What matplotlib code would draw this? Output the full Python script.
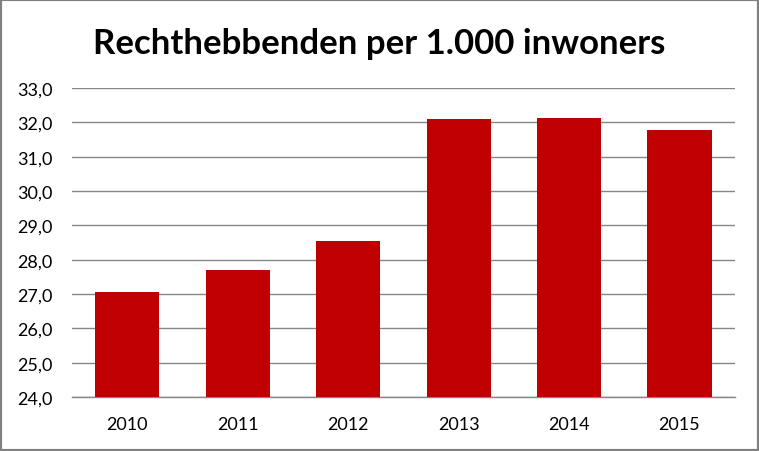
import matplotlib
matplotlib.use("Agg")
import matplotlib.pyplot as plt
from matplotlib.patches import Rectangle
from matplotlib.ticker import FuncFormatter

years = ["2010", "2011", "2012", "2013", "2014", "2015"]
values = [27.05, 27.70, 28.55, 32.10, 32.13, 31.78]
title = "Rechthebbenden per 1.000 inwoners"

plt.rcParams['font.family'] = ['Lato', 'DejaVu Sans']

fig = plt.figure(figsize=(7.59, 4.52), dpi=100)
ax = fig.add_axes([0.095, 0.1195, 0.873, 0.6835])

ax.bar(range(len(years)), values, width=0.58, bottom=0, color="#C00000", zorder=3)
ax.set_ylim(24, 33)
ax.set_xlim(-0.5, len(years) - 0.5)
ax.set_yticks(range(24, 34))
ax.yaxis.set_major_formatter(FuncFormatter(lambda v, p: f"{v:.1f}".replace(".", ",")))
ax.set_xticks(range(len(years)))
ax.set_xticklabels(years)

ax.grid(axis="y", color="#868686", linewidth=1, zorder=0)
for s in ["top", "right", "left"]:
    ax.spines[s].set_visible(False)
ax.spines["bottom"].set_color("#868686")
ax.spines["bottom"].set_linewidth(1)
ax.tick_params(axis="both", length=0, labelsize=13, colors="black")
ax.tick_params(axis="y", pad=14)
ax.tick_params(axis="x", pad=14)

fig.text(0.5, 0.902, title, ha="center", va="center", fontsize=25, fontweight="bold")

fig.patches.append(Rectangle((0, 0), 1, 1, transform=fig.transFigure, fill=False,
                             edgecolor="#808080", linewidth=3))

fig.savefig("out.png", dpi=100)
